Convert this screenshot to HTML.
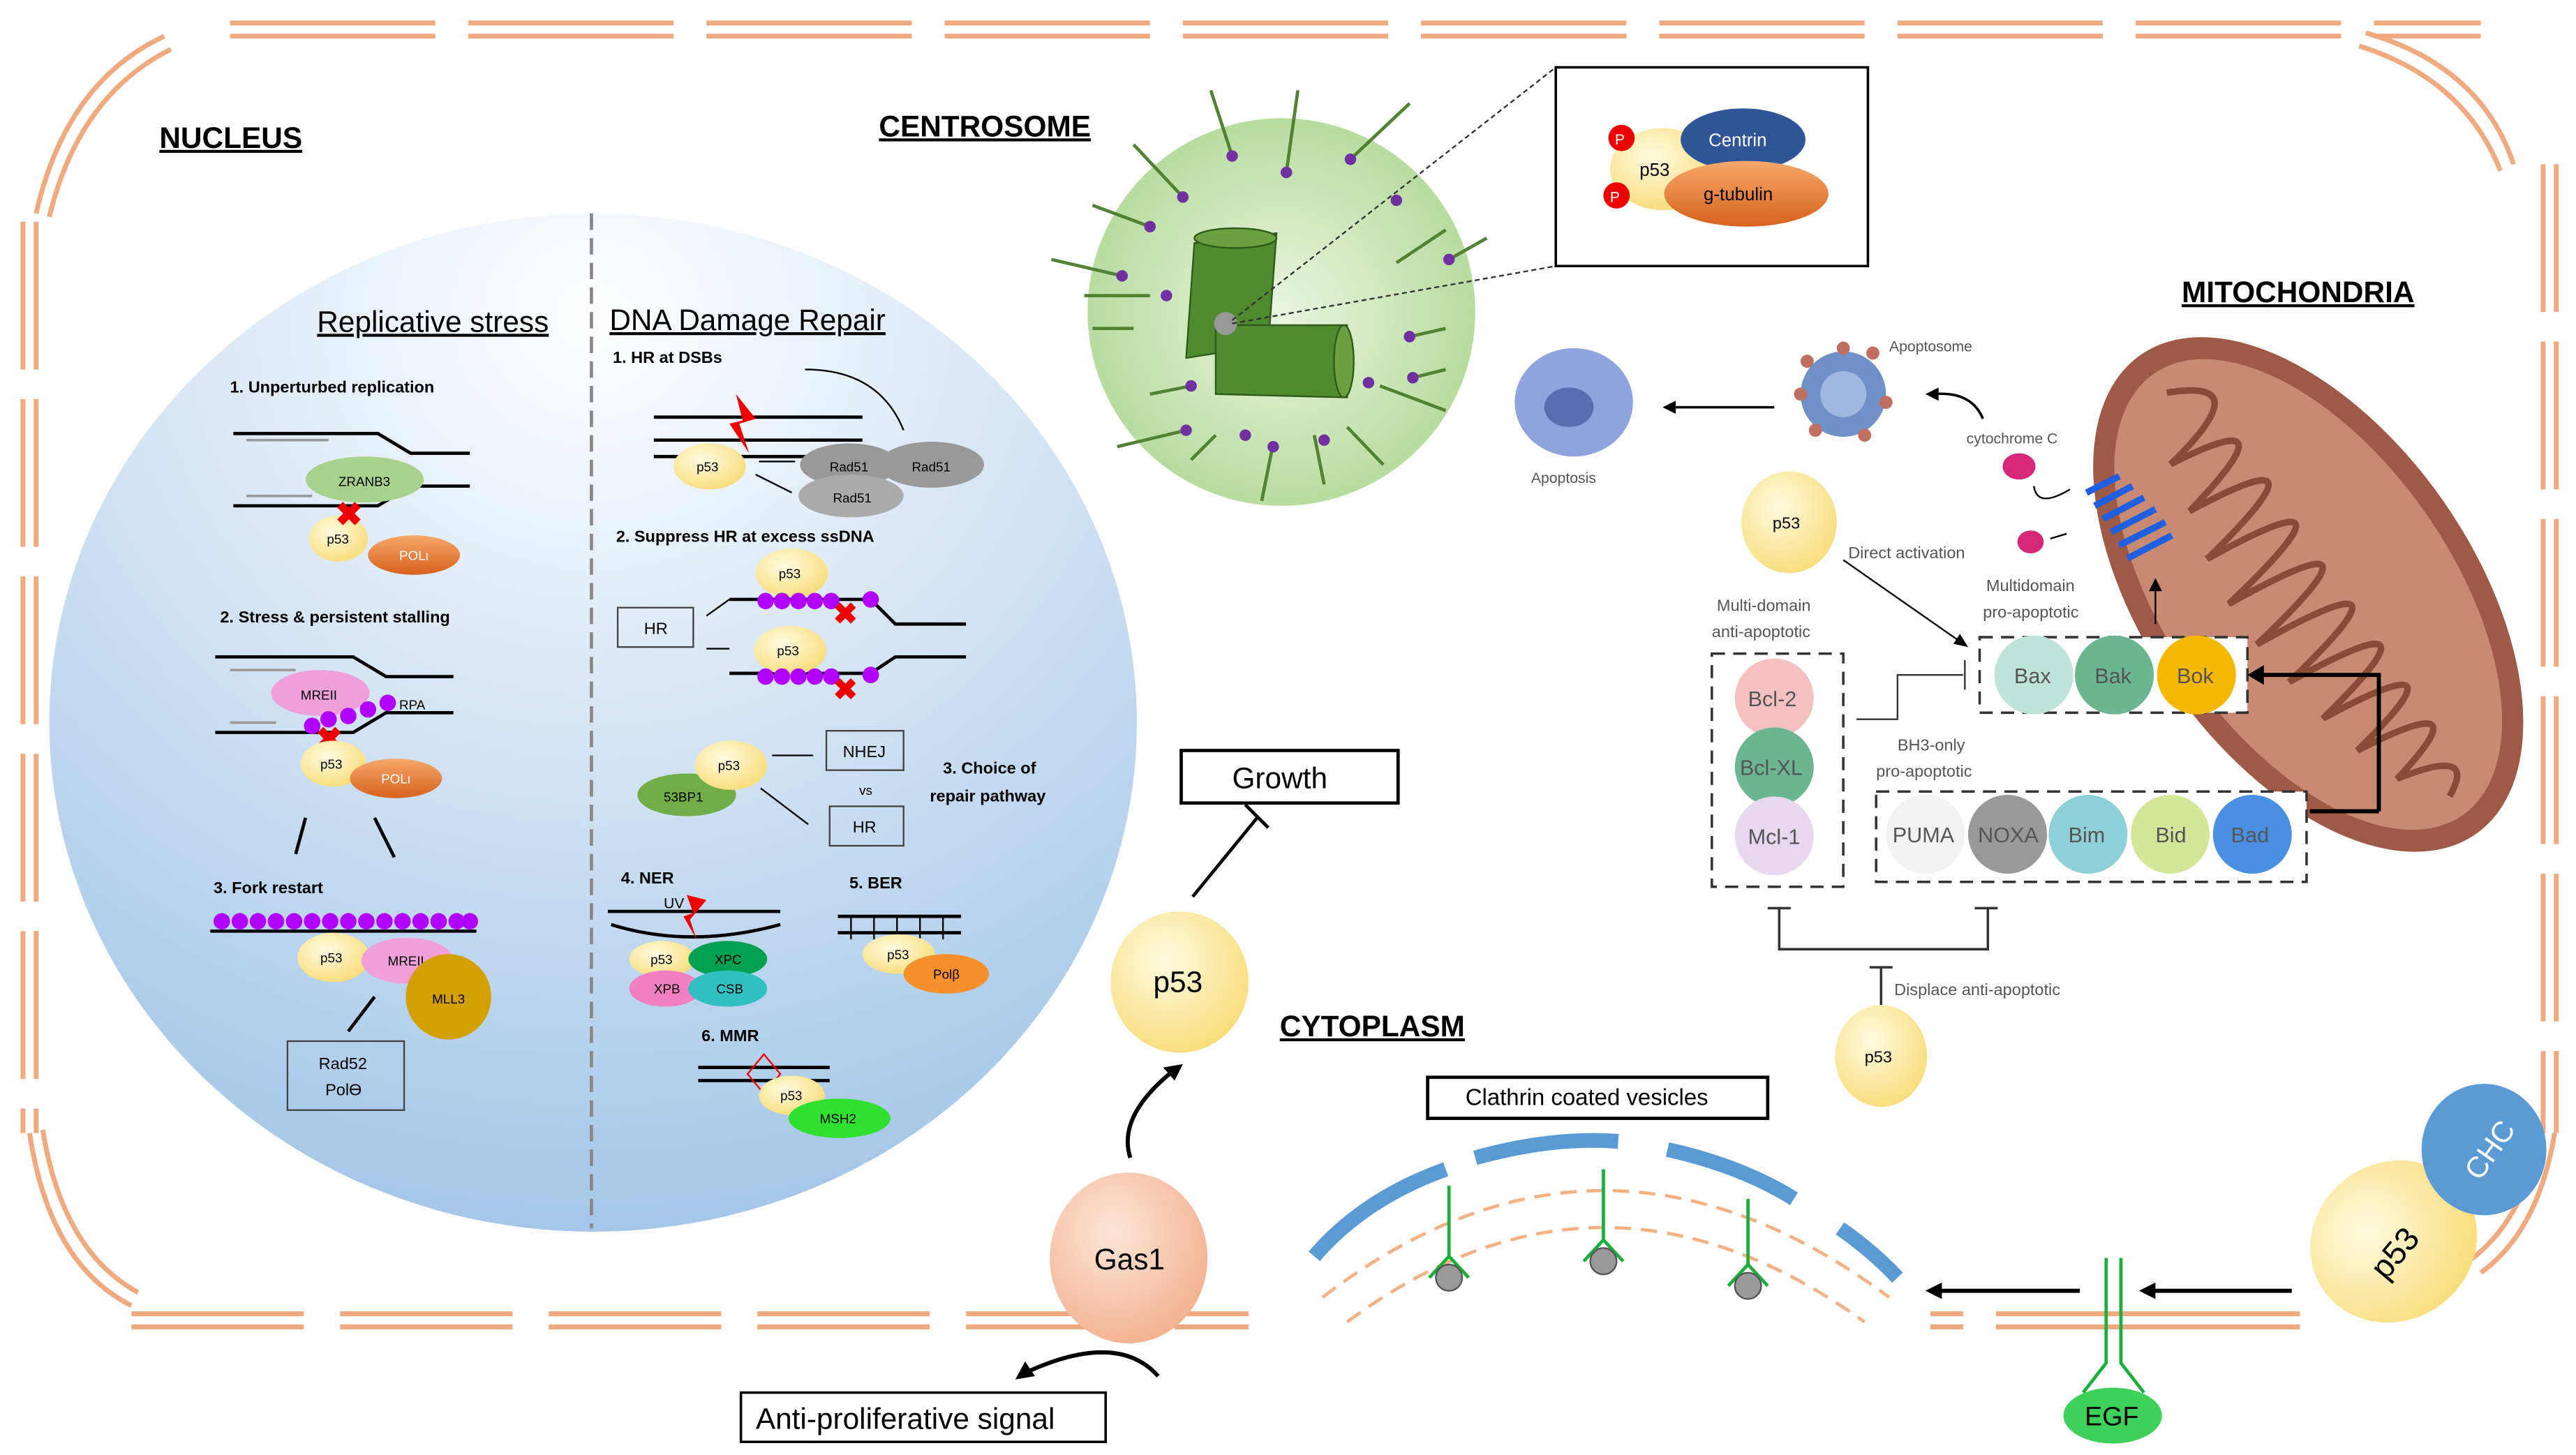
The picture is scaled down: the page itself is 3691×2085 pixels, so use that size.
<!DOCTYPE html>
<html><head><meta charset="utf-8"><style>
html,body{margin:0;padding:0;background:#fff;}
svg{display:block;}
text{font-family:"Liberation Sans",sans-serif;}
</style></head><body>
<svg width="3691" height="2085" viewBox="0 0 1568 886" preserveAspectRatio="none" xmlns="http://www.w3.org/2000/svg">
<defs>
<radialGradient id="nuc" cx="0.5" cy="0.1" r="0.95"><stop offset="0" stop-color="#ffffff"/><stop offset="1" stop-color="#9fc3e6"/></radialGradient>
<radialGradient id="cen" cx="0.5" cy="0.5" r="0.5"><stop offset="0" stop-color="#eaf5e0"/><stop offset="1" stop-color="#b8dca0"/></radialGradient>
<radialGradient id="yel" cx="0.4" cy="0.35" r="0.7"><stop offset="0" stop-color="#fffbe0"/><stop offset="1" stop-color="#f8dc78"/></radialGradient>
<radialGradient id="gas" cx="0.4" cy="0.35" r="0.7"><stop offset="0" stop-color="#fde6d8"/><stop offset="1" stop-color="#f2b08e"/></radialGradient>
<linearGradient id="or" x1="0" y1="0" x2="0" y2="1"><stop offset="0" stop-color="#f4a86a"/><stop offset="1" stop-color="#d8621e"/></linearGradient>
</defs>
<g stroke="#f0aa80" stroke-width="3" fill="none">
<path d="M140 14H1510M140 22H1510" stroke-dasharray="125 20"/>
<path d="M14 135V690M22 135V690" stroke-dasharray="90 18"/>
<path d="M1548 100V690M1556 100V690" stroke-dasharray="90 18"/>
<path d="M80 800H760M80 808H760" stroke-dasharray="105 22"/>
<path d="M1175 800H1400M1175 808H1400" stroke-dasharray="20 20 190 0"/>
<path d="M22 130Q40 50 100 22M30 132Q48 58 104 30"/>
<path d="M1440 20Q1510 40 1530 100M1436 28Q1500 48 1522 104"/>
<path d="M18 690Q30 770 80 795M26 688Q38 762 84 787"/>
<path d="M1555 690Q1545 750 1510 775M1547 688Q1537 742 1504 767"/>
</g>
<ellipse cx="361" cy="440" rx="331" ry="310" fill="url(#nuc)"/>
<line x1="360" y1="130" x2="360" y2="748" stroke="#888" stroke-width="2" stroke-dasharray="10 5"/>
<g font-weight="bold" font-size="18" text-decoration="underline">
<text x="97" y="90">NUCLEUS</text><text x="535" y="83">CENTROSOME</text><text x="1328" y="184">MITOCHONDRIA</text><text x="779" y="631">CYTOPLASM</text>
</g>
<g font-size="18" text-decoration="underline"><text x="193" y="202">Replicative stress</text><text x="371" y="201">DNA Damage Repair</text></g>
<g font-size="10" font-weight="bold">
<text x="140" y="239">1. Unperturbed replication</text><text x="134" y="379">2. Stress &amp; persistent stalling</text><text x="130" y="544">3. Fork restart</text>
<text x="373" y="221">1. HR at DSBs</text><text x="375" y="330">2. Suppress HR at excess ssDNA</text>
<text x="574" y="471">3. Choice of</text><text x="566" y="488">repair pathway</text>
<text x="378" y="538">4. NER</text><text x="517" y="541">5. BER</text><text x="427" y="634">6. MMR</text>
</g>
<g stroke="#000" stroke-width="2" fill="none">
<path d="M142 264H230L250 276H286"/><path d="M142 308H230L250 296H286"/>
<path d="M131 400H215L235 412H276"/><path d="M131 446H215L235 434H276"/>
<path d="M128 567H290"/>
<path d="M186 498L180 520M228 498L240 522M228 607L212 628"/>
</g>
<g stroke="#999" stroke-width="1.5"><path d="M150 268H200M150 302H190M140 408H180M140 440H168"/></g>
<ellipse cx="222" cy="292" rx="36" ry="14" fill="#a9d18e"/><text x="206" y="296" font-size="8">ZRANB3</text>
<ellipse cx="206" cy="328" rx="18" ry="14" fill="url(#yel)"/><text x="199" y="331" font-size="8">p53</text>
<ellipse cx="252" cy="338" rx="28" ry="12" fill="url(#or)"/><text x="243" y="341" font-size="8" fill="#fff">POLι</text>
<text x="204" y="320" font-size="20" fill="#e00" font-weight="bold">✖</text>
<ellipse cx="195" cy="422" rx="30" ry="14" fill="#f0a0d8"/><text x="183" y="426" font-size="8">MREII</text>
<g fill="#b000ff"><circle cx="190" cy="442" r="5"/><circle cx="200" cy="438" r="5"/><circle cx="212" cy="436" r="5"/><circle cx="224" cy="432" r="5"/><circle cx="236" cy="428" r="5"/></g>
<text x="243" y="432" font-size="8">RPA</text>
<text x="192" y="457" font-size="20" fill="#e00" font-weight="bold">✖</text>
<ellipse cx="203" cy="465" rx="20" ry="14" fill="url(#yel)"/><text x="195" y="468" font-size="8">p53</text>
<ellipse cx="241" cy="474" rx="28" ry="12" fill="url(#or)"/><text x="232" y="477" font-size="8" fill="#fff">POLι</text>
<g fill="#b000ff"><circle cx="135" cy="561" r="5"/><circle cx="146" cy="561" r="5"/><circle cx="157" cy="561" r="5"/><circle cx="168" cy="561" r="5"/><circle cx="179" cy="561" r="5"/><circle cx="190" cy="561" r="5"/><circle cx="201" cy="561" r="5"/><circle cx="212" cy="561" r="5"/><circle cx="223" cy="561" r="5"/><circle cx="234" cy="561" r="5"/><circle cx="245" cy="561" r="5"/><circle cx="256" cy="561" r="5"/><circle cx="267" cy="561" r="5"/><circle cx="278" cy="561" r="5"/><circle cx="286" cy="561" r="5"/></g>
<ellipse cx="203" cy="583" rx="22" ry="15" fill="url(#yel)"/><text x="195" y="586" font-size="8">p53</text>
<ellipse cx="248" cy="585" rx="28" ry="14" fill="#f0a0d8"/><text x="236" y="588" font-size="8">MREII</text>
<circle cx="273" cy="607" r="26" fill="#d4a000"/><text x="263" y="611" font-size="8">MLL3</text>
<rect x="175" y="634" width="71" height="42" fill="none" stroke="#444"/><text x="194" y="651" font-size="10">Rad52</text><text x="198" y="667" font-size="10">Polϴ</text>
<g stroke="#000" stroke-width="2" fill="none">
<path d="M398 254H525M398 268H525M398 278H525"/>
<path d="M444 365H530L545 380H588M444 410H530L545 400H588"/>
<path d="M370 555H475M372 563Q420 578 475 563"/><path d="M510 558H585M510 568H585"/><path d="M425 650H505M425 658H505"/>
</g>
<path d="M550 262Q535 225 490 225" stroke="#000" fill="none"/><path d="M462 281H484M460 289L482 300M444 365L430 375M444 395H430M470 460H495M463 480L492 502M446 275l-3 6" stroke="#000" fill="none"/>
<path d="M448 240L460 255L450 258L456 276L444 258L452 256Z" fill="#e00"/>
<ellipse cx="432" cy="284" rx="22" ry="14" fill="url(#yel)"/><text x="424" y="287" font-size="8">p53</text>
<ellipse cx="517" cy="283" rx="30" ry="13" fill="#999"/><ellipse cx="567" cy="283" rx="32" ry="14" fill="#999"/><ellipse cx="518" cy="302" rx="32" ry="13" fill="#aaa"/>
<text x="505" y="287" font-size="8">Rad51</text><text x="555" y="287" font-size="8">Rad51</text><text x="507" y="306" font-size="8">Rad51</text>
<ellipse cx="482" cy="349" rx="22" ry="15" fill="url(#yel)"/><text x="474" y="352" font-size="8">p53</text>
<ellipse cx="481" cy="396" rx="22" ry="15" fill="url(#yel)"/><text x="473" y="399" font-size="8">p53</text>
<g fill="#b000ff"><circle cx="466" cy="366" r="5"/><circle cx="476" cy="366" r="5"/><circle cx="486" cy="366" r="5"/><circle cx="496" cy="366" r="5"/><circle cx="506" cy="366" r="5"/><circle cx="530" cy="365" r="5"/><circle cx="466" cy="412" r="5"/><circle cx="476" cy="412" r="5"/><circle cx="486" cy="412" r="5"/><circle cx="496" cy="412" r="5"/><circle cx="506" cy="412" r="5"/><circle cx="530" cy="411" r="5"/></g>
<text x="507" y="380" font-size="18" fill="#e00" font-weight="bold">✖</text><text x="507" y="426" font-size="18" fill="#e00" font-weight="bold">✖</text>
<rect x="376" y="370" width="46" height="24" fill="none" stroke="#444"/><text x="392" y="386" font-size="10">HR</text>
<ellipse cx="418" cy="484" rx="30" ry="13" fill="#70ad47"/><text x="404" y="488" font-size="8">53BP1</text>
<ellipse cx="445" cy="466" rx="22" ry="15" fill="url(#yel)"/><text x="437" y="469" font-size="8">p53</text>
<rect x="503" y="445" width="47" height="24" fill="none" stroke="#444"/><text x="513" y="461" font-size="10">NHEJ</text>
<text x="523" y="484" font-size="8">vs</text>
<rect x="505" y="491" width="45" height="24" fill="none" stroke="#444"/><text x="519" y="507" font-size="10">HR</text>
<text x="404" y="553" font-size="9">UV</text><path d="M418 545L430 548L420 560L424 572L416 558L422 556Z" fill="#e00"/>
<ellipse cx="403" cy="584" rx="20" ry="11" fill="url(#yel)"/><text x="396" y="587" font-size="8">p53</text>
<ellipse cx="443" cy="584" rx="24" ry="11" fill="#00a050"/><text x="435" y="587" font-size="8">XPC</text>
<ellipse cx="405" cy="602" rx="22" ry="11" fill="#f080c0"/><text x="398" y="605" font-size="8">XPB</text>
<ellipse cx="443" cy="602" rx="24" ry="11" fill="#30c0c0"/><text x="436" y="605" font-size="8">CSB</text>
<g stroke="#000"><path d="M518 558V572M532 558V572M546 558V572M560 558V572M574 558V572"/></g>
<ellipse cx="547" cy="581" rx="22" ry="12" fill="url(#yel)"/><text x="540" y="584" font-size="8">p53</text>
<ellipse cx="576" cy="593" rx="26" ry="12" fill="#f5902a"/><text x="568" y="596" font-size="8">Polβ</text>
<path d="M455 654L465 642L475 654L465 666Z" fill="none" stroke="#e00"/>
<ellipse cx="482" cy="667" rx="20" ry="12" fill="url(#yel)"/><text x="475" y="670" font-size="8">p53</text>
<ellipse cx="511" cy="681" rx="31" ry="12" fill="#30e030"/><text x="499" y="684" font-size="8">MSH2</text>
<circle cx="780" cy="190" r="118" fill="url(#cen)"/>
<g stroke="#548235" stroke-width="2">
<path d="M737 55L750 95M790 55L783 105M858 63L822 97M690 88L720 120M665 125L700 138M640 158L683 168M665 200L690 200M850 160L880 140M905 145L882 158M880 200L858 205M880 225L860 230M880 250L840 235M820 260L842 283M800 265L806 295M775 270L768 305M740 265L725 280M700 240L725 235M680 272L722 262M660 180L700 180"/>
</g>
<g fill="#7030a0"><circle cx="750" cy="95" r="3.5"/><circle cx="783" cy="105" r="3.5"/><circle cx="822" cy="97" r="3.5"/><circle cx="720" cy="120" r="3.5"/><circle cx="700" cy="138" r="3.5"/><circle cx="683" cy="168" r="3.5"/><circle cx="850" cy="122" r="3.5"/><circle cx="882" cy="158" r="3.5"/><circle cx="858" cy="205" r="3.5"/><circle cx="860" cy="230" r="3.5"/><circle cx="833" cy="233" r="3.5"/><circle cx="806" cy="268" r="3.5"/><circle cx="775" cy="272" r="3.5"/><circle cx="758" cy="265" r="3.5"/><circle cx="725" cy="235" r="3.5"/><circle cx="722" cy="262" r="3.5"/><circle cx="710" cy="180" r="3.5"/></g>
<path d="M727 148L777 142L772 210L722 218Z" fill="#4e8a2e" stroke="#2e5a1a"/><ellipse cx="752" cy="145" rx="25" ry="6" fill="#6aa040" stroke="#2e5a1a"/>
<path d="M740 198L820 198L820 242L740 240Z" fill="#4e8a2e" stroke="#2e5a1a"/><ellipse cx="818" cy="220" rx="6" ry="22" fill="#6aa040" stroke="#2e5a1a"/>
<circle cx="746" cy="197" r="7" fill="#999"/>
<path d="M750 195L947 41M750 197L947 162" stroke="#333" stroke-dasharray="3 2" fill="none"/>
<rect x="947" y="41" width="190" height="121" fill="#fff" stroke="#000" stroke-width="1.5"/>
<ellipse cx="1012" cy="103" rx="32" ry="25" fill="url(#yel)"/><text x="998" y="107" font-size="11">p53</text>
<ellipse cx="1061" cy="85" rx="38" ry="19" fill="#2f5597"/><text x="1040" y="89" font-size="11" fill="#fff">Centrin</text>
<ellipse cx="1063" cy="118" rx="50" ry="20" fill="url(#or)"/><text x="1037" y="122" font-size="11">g-tubulin</text>
<circle cx="987" cy="84" r="8" fill="#e00"/><text x="983" y="88" font-size="9" fill="#fff">P</text>
<circle cx="984" cy="119" r="8" fill="#e00"/><text x="980" y="123" font-size="9" fill="#fff">P</text>
<g transform="rotate(55 1405 362)">
<ellipse cx="1405" cy="362" rx="178" ry="100" fill="#9e5a46"/>
<ellipse cx="1405" cy="362" rx="164" ry="87" fill="#c88a72"/>
<path d="M1255 362Q1280 310 1292 385Q1304 300 1322 392Q1334 290 1352 400Q1364 285 1382 405Q1394 285 1412 405Q1424 285 1442 402Q1454 288 1472 398Q1484 295 1500 392Q1512 305 1528 382Q1540 330 1555 362" stroke="#8a4a38" stroke-width="4" fill="none"/>
</g>
<g stroke="#1f5fe0" stroke-width="4"><path d="M1270 300L1290 290M1275 308L1298 296M1280 316L1305 303M1285 324L1312 310M1290 332L1318 318M1295 340L1322 326"/></g>
<ellipse cx="958" cy="245" rx="36" ry="33" fill="#8fa4dc"/><ellipse cx="955" cy="248" rx="15" ry="12" fill="#5a6cb0"/>
<text x="932" y="294" font-size="9" fill="#555">Apoptosis</text>
<circle cx="1122" cy="240" r="26" fill="#7090c8"/><circle cx="1122" cy="240" r="14" fill="#a0b8e0"/>
<g fill="#c07060"><circle cx="1100" cy="220" r="4"/><circle cx="1140" cy="215" r="4"/><circle cx="1148" cy="245" r="4"/><circle cx="1135" cy="265" r="4"/><circle cx="1105" cy="262" r="4"/><circle cx="1096" cy="240" r="4"/><circle cx="1122" cy="212" r="4"/></g>
<text x="1150" y="214" font-size="9" fill="#555">Apoptosome</text>
<text x="1197" y="270" font-size="9" fill="#555">cytochrome C</text>
<path d="M1080 248H1015" stroke="#000" stroke-width="1.5"/><path d="M1012 248l8 -4v8z"/>
<path d="M1207 255Q1200 238 1177 240" stroke="#000" fill="none" stroke-width="1.5"/><path d="M1172 240l8-4v8z"/>
<ellipse cx="1229" cy="284" rx="10" ry="8" fill="#d6287a"/><ellipse cx="1236" cy="330" rx="8" ry="7" fill="#d6287a"/>
<path d="M1260 298Q1240 310 1238 296" stroke="#000" fill="none"/><path d="M1258 325L1248 328" stroke="#000"/>
<ellipse cx="1089" cy="318" rx="29" ry="31" fill="url(#yel)"/><text x="1079" y="322" font-size="10">p53</text>
<text x="1125" y="340" font-size="10" fill="#555">Direct activation</text>
<path d="M1122 341L1195 392" stroke="#000"/><path d="M1198 394l-9-2 4-6z"/>
<text x="1045" y="372" font-size="10" fill="#555">Multi-domain</text><text x="1042" y="388" font-size="10" fill="#555">anti-apoptotic</text>
<text x="1209" y="360" font-size="10" fill="#555">Multidomain</text><text x="1207" y="376" font-size="10" fill="#555">pro-apoptotic</text>
<path d="M1312 380V356" stroke="#000"/><path d="M1312 352l-4 8h8z"/>
<rect x="1205" y="388" width="163" height="46" fill="#fff" stroke="#333" stroke-width="1.5" stroke-dasharray="8 5"/>
<circle cx="1238" cy="411" r="24" fill="#bfe3d8"/><circle cx="1287" cy="411" r="24" fill="#6bb592"/><circle cx="1337" cy="411" r="24" fill="#f5b800"/>
<g font-size="13" fill="#555"><text x="1226" y="416">Bax</text><text x="1275" y="416">Bak</text><text x="1325" y="416">Bok</text></g>
<path d="M1448 494H1406M1448 494V411H1374" stroke="#000" stroke-width="2.5" fill="none"/><path d="M1368 411l10-6v12z"/>
<rect x="1042" y="398" width="80" height="142" fill="none" stroke="#333" stroke-width="1.5" stroke-dasharray="8 5"/>
<circle cx="1080" cy="425" r="24" fill="#f4c0c0"/><circle cx="1080" cy="467" r="24" fill="#6bb592"/><circle cx="1080" cy="509" r="24" fill="#e6d8ee"/>
<g font-size="13" fill="#555"><text x="1064" y="430">Bcl-2</text><text x="1059" y="472">Bcl-XL</text><text x="1064" y="514">Mcl-1</text></g>
<path d="M1130 438H1155V411H1195M1196 402V420" stroke="#333" fill="none"/>
<text x="1155" y="457" font-size="10" fill="#555">BH3-only</text><text x="1142" y="473" font-size="10" fill="#555">pro-apoptotic</text>
<rect x="1142" y="482" width="262" height="55" fill="#fff" stroke="#333" stroke-width="1.5" stroke-dasharray="8 5"/>
<circle cx="1172" cy="508" r="24" fill="#f2f2f2"/><circle cx="1222" cy="508" r="24" fill="#999"/><circle cx="1271" cy="508" r="24" fill="#8fd0d8"/><circle cx="1321" cy="508" r="24" fill="#d4e69a"/><circle cx="1371" cy="508" r="24" fill="#4a90e2"/>
<g font-size="13" fill="#555"><text x="1152" y="513">PUMA</text><text x="1204" y="513">NOXA</text><text x="1259" y="513">Bim</text><text x="1312" y="513">Bid</text><text x="1358" y="513">Bad</text></g>
<path d="M1448 494H1406" stroke="#000" stroke-width="2.5"/>
<path d="M1076 553H1090M1083 553V578H1210V553M1202 553H1216M1138 589H1152M1145 589V612" stroke="#333" stroke-width="1.5" fill="none"/>
<text x="1153" y="606" font-size="10" fill="#555">Displace anti-apoptotic</text>
<ellipse cx="1145" cy="643" rx="28" ry="31" fill="url(#yel)"/><text x="1135" y="647" font-size="10">p53</text>
<rect x="719" y="457" width="132" height="32" fill="#fff" stroke="#000" stroke-width="2"/><text x="750" y="480" font-size="18">Growth</text>
<path d="M726 546L766 497M758 490L772 504" stroke="#000" stroke-width="2"/>
<ellipse cx="718" cy="598" rx="42" ry="43" fill="url(#yel)"/><text x="702" y="604" font-size="18">p53</text>
<path d="M688 705Q680 680 713 653" stroke="#000" stroke-width="2.5" fill="none"/><path d="M720 648l-12 2 7 8z"/>
<ellipse cx="687" cy="766" rx="48" ry="52" fill="url(#gas)"/><text x="666" y="773" font-size="18">Gas1</text>
<path d="M705 838Q680 810 624 836" stroke="#000" stroke-width="2.5" fill="none"/><path d="M618 840l12-2-6-9z"/>
<rect x="451" y="848" width="222" height="30" fill="#fff" stroke="#000" stroke-width="1.5"/><text x="460" y="870" font-size="18">Anti-proliferative signal</text>
<rect x="869" y="656" width="207" height="25" fill="#fff" stroke="#000" stroke-width="2"/><text x="892" y="673" font-size="14">Clathrin coated vesicles</text>
<g stroke="#5b9bd5" stroke-width="9" fill="none"><path d="M800 765Q830 730 880 712"/><path d="M898 705Q945 692 985 695"/><path d="M1015 700Q1060 710 1092 730"/><path d="M1120 748Q1140 762 1155 778"/></g>
<g stroke="#f4b183" stroke-width="2" fill="none" stroke-dasharray="10 6"><path d="M805 790Q975 660 1150 790"/><path d="M820 805Q975 690 1135 805"/></g>
<g stroke="#1aae3a" stroke-width="2" fill="none"><path d="M882 722V765L870 778M882 765L894 778M976 712V755L964 768M976 755L988 768M1064 730V770L1052 783M1064 770L1076 783"/></g>
<g fill="#999" stroke="#555"><circle cx="882" cy="778" r="8"/><circle cx="976" cy="768" r="8"/><circle cx="1064" cy="783" r="8"/></g>
<path d="M1266 786H1180M1395 786H1310" stroke="#000" stroke-width="2.5"/><path d="M1172 786l10-5v10zM1302 786l10-5v10z"/>
<path d="M1282 766V830L1268 848M1291 766V830L1305 848" stroke="#1aae3a" stroke-width="2" fill="none"/>
<ellipse cx="1286" cy="862" rx="30" ry="17" fill="#3ed05a"/><text x="1269" y="868" font-size="16">EGF</text>
<ellipse cx="1457" cy="756" rx="52" ry="48" fill="url(#yel)" transform="rotate(-35 1457 756)"/>
<text x="1440" y="770" font-size="20" transform="rotate(-50 1457 762)">p53</text>
<ellipse cx="1512" cy="700" rx="38" ry="40" fill="#5b9bd5"/>
<text x="1496" y="710" font-size="18" fill="#fff" transform="rotate(-55 1512 702)">CHC</text>
</svg>
</body></html>
